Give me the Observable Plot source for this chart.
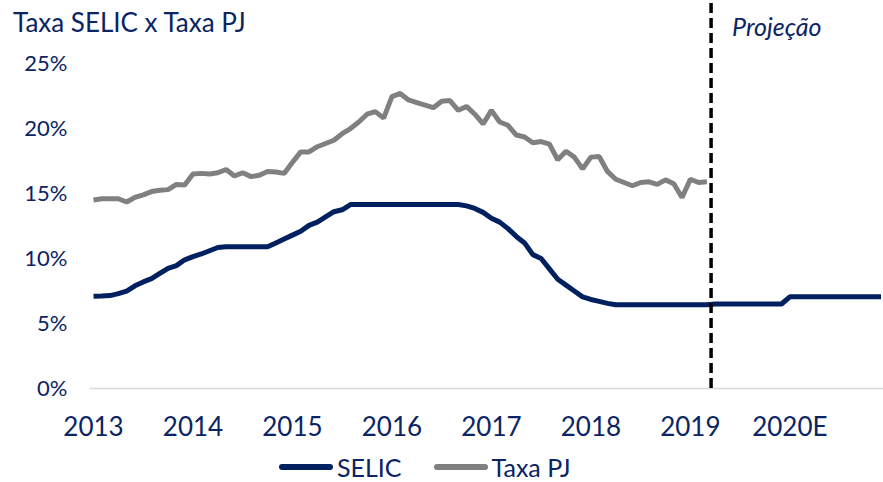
<!DOCTYPE html>
<html>
<head>
<meta charset="utf-8">
<script src="https://cdn.jsdelivr.net/npm/d3@7"></script>
<script src="https://cdn.jsdelivr.net/npm/@observablehq/plot@0.6"></script>
<style>
  html, body { margin: 0; padding: 0; background: #fff; }
  #wrap { position: relative; width: 883px; height: 482px; font-family: Lato, "Open Sans", sans-serif; color: #0b2463; }
  #title { position: absolute; left: 13px; top: 6px; font-size: 26px; white-space: nowrap; }
  #legend { position: absolute; left: 279px; top: 452px; height: 30px; display: flex; align-items: center; font-size: 25px; white-space: nowrap; }
  .sw { display: inline-block; width: 54px; height: 6px; border-radius: 3px; margin-right: 4px; }
  .item { display: flex; align-items: center; margin-right: 32px; }
</style>
</head>
<body>
<div id="wrap">
  <div id="chart"></div>
  <div id="title">Taxa SELIC x Taxa PJ</div>
  <div id="legend"></div>
</div>
<script>
// Month index 0 = Jan 2013 ... 95 = Dec 2020
const yearLabels = ["2013", "2014", "2015", "2016", "2017", "2018", "2019", "2020E"];
const yTicks = [0, 5, 10, 15, 20, 25];
const seriesNames = ["SELIC", "Taxa PJ"];
const projectionLabel = "Projeção";
const projectionStart = 74.5; // between Mar and Apr 2019

const selic = [
  7.10, 7.12, 7.15, 7.30, 7.50, 7.90, 8.20, 8.45, 8.85, 9.25, 9.45, 9.90,
  10.15, 10.35, 10.60, 10.85, 10.90, 10.90, 10.90, 10.90, 10.90, 10.90, 11.20, 11.50,
  11.80, 12.10, 12.55, 12.80, 13.20, 13.60, 13.75, 14.15, 14.15, 14.15, 14.15, 14.15,
  14.15, 14.15, 14.15, 14.15, 14.15, 14.15, 14.15, 14.15, 14.15, 14.05, 13.85, 13.55,
  13.10, 12.80, 12.30, 11.70, 11.20, 10.30, 10.00, 9.20, 8.40, 7.95, 7.50, 7.05,
  6.85, 6.70, 6.55, 6.45, 6.45, 6.45, 6.45, 6.45, 6.45, 6.45, 6.45, 6.45,
  6.45, 6.45, 6.45, 6.50, 6.50, 6.50, 6.50, 6.50, 6.50, 6.50, 6.50, 6.50,
  7.05, 7.05, 7.05, 7.05, 7.05, 7.05, 7.05, 7.05, 7.05, 7.05, 7.05, 7.05
];

const taxaPJ = [
  14.50, 14.60, 14.60, 14.60, 14.35, 14.70, 14.90, 15.15, 15.25, 15.30, 15.70, 15.65,
  16.50, 16.55, 16.50, 16.60, 16.85, 16.35, 16.60, 16.30, 16.40, 16.70, 16.65, 16.55,
  17.40, 18.20, 18.20, 18.60, 18.85, 19.10, 19.60, 20.00, 20.50, 21.10, 21.30, 20.80,
  22.45, 22.70, 22.20, 22.00, 21.80, 21.60, 22.10, 22.15, 21.40, 21.70, 21.10, 20.35,
  21.40, 20.50, 20.25, 19.50, 19.35, 18.90, 19.00, 18.80, 17.60, 18.25, 17.80, 16.90,
  17.80, 17.85, 16.70, 16.10, 15.85, 15.60, 15.85, 15.90, 15.70, 16.05, 15.75, 14.70,
  16.10, 15.85, 15.90
];

const navy = "#002060";
const gray = "#808080";
const yTop = 29.85;

const plot = Plot.plot({
  width: 883,
  height: 450,
  marginLeft: 93,
  marginRight: 0,
  marginTop: 0,
  marginBottom: 62,
  style: { fontFamily: "Lato, 'Open Sans', sans-serif", color: "#0b2463", background: "transparent", overflow: "visible" },
  x: { domain: [0, 95.3] },
  y: { domain: [0, yTop] },
  marks: [
    Plot.ruleY([0], { x1: -0.4, x2: 95.3, stroke: "#d9d9d9", strokeWidth: 1.5 }),
    Plot.axisY({ ticks: yTicks, tickFormat: d => d + "%", tickSize: 0, tickPadding: 26, fontSize: 22, label: null }),
    Plot.axisX({ ticks: yearLabels.map((_, i) => i * 12), tickFormat: d => yearLabels[d / 12], tickSize: 0, tickPadding: 29, fontSize: 26, label: null }),
    Plot.lineY(taxaPJ, { x: (d, i) => i, y: d => d, stroke: gray, strokeWidth: 5, strokeLinejoin: "miter", strokeLinecap: "butt" }),
    Plot.lineY(selic, { x: (d, i) => i, y: d => d, stroke: navy, strokeWidth: 5, strokeLinejoin: "miter", strokeLinecap: "butt" }),
    Plot.ruleX([projectionStart], { y1: 0, y2: yTop, stroke: "#000", strokeWidth: 3.5, strokeDasharray: "10,5" }),
    Plot.text([projectionLabel], { x: projectionStart, y: 27.7, text: d => d, textAnchor: "start", dx: 21, fontSize: 25, fontStyle: "italic", fill: "#0b2463" })
  ]
});
document.getElementById("chart").appendChild(plot);

const legend = document.getElementById("legend");
[[seriesNames[0], navy], [seriesNames[1], gray]].forEach(([name, color]) => {
  const item = document.createElement("div");
  item.className = "item";
  const sw = document.createElement("span");
  sw.className = "sw";
  sw.style.background = color;
  const t = document.createElement("span");
  t.textContent = name;
  item.appendChild(sw);
  item.appendChild(t);
  legend.appendChild(item);
});
</script>
</body>
</html>
